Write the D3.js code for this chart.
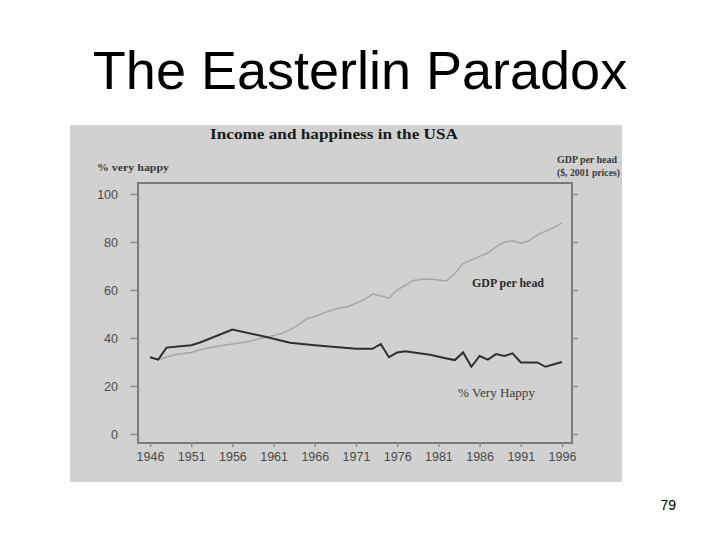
<!DOCTYPE html>
<html>
<head>
<meta charset="utf-8">
<script src="https://cdn.jsdelivr.net/npm/d3@7"></script>
<style>
  body { margin: 0; background: #fff; }
  svg { display: block; }
</style>
</head>
<body>
<script>
// % very happy, survey years
var happyYears = [1946, 1947, 1948, 1951, 1952, 1956, 1960, 1963, 1966, 1971, 1973, 1974, 1975, 1976, 1977, 1978, 1980, 1982, 1983, 1984, 1985, 1986, 1987, 1988, 1989, 1990, 1991, 1993, 1994, 1996];
var happyValues = [32, 31, 36, 37, 38, 43.5, 40.5, 38, 37, 35.5, 35.5, 37.5, 32, 34, 34.5, 34, 33, 31.5, 30.8, 34, 28, 32.5, 31, 33.3, 32.5, 33.6, 29.8, 29.8, 28, 30];

// GDP per head (index, same scale)
var gdpYears = d3.range(1946, 1997);
var gdpValues = [32, 31, 32, 33, 33.5, 34, 35, 35.8, 36.5, 37, 37.5, 38, 38.5, 39.5, 40.3, 41, 42, 43.5, 45.5, 48, 49, 50.3, 51.5, 52.5, 53, 54.5, 56, 58.3, 57.5, 56.7, 60, 62, 64, 64.5, 64.6, 64.2, 63.8, 67, 71, 72.5, 74, 75.5, 78, 80, 80.5, 79.5, 80.5, 83, 84.5, 86, 88];

var yTicks = [0, 20, 40, 60, 80, 100];
var xTicks = [1946, 1951, 1956, 1961, 1966, 1971, 1976, 1981, 1986, 1991, 1996];

var width = 720, height = 540;
var svg = d3.select("body").append("svg")
    .attr("width", width)
    .attr("height", height);

// slide title
svg.append("text")
    .attr("x", 360).attr("y", 89)
    .attr("text-anchor", "middle")
    .style("font-family", "Arial, 'Liberation Sans', sans-serif")
    .style("font-size", "54px")
    .text("The Easterlin Paradox");

// scanned picture background
svg.append("rect")
    .attr("x", 70).attr("y", 125)
    .attr("width", 552).attr("height", 357)
    .attr("fill", "#d1d1d1");

var plot = {left: 138, right: 572, top: 183, bottom: 443};

var x = d3.scaleLinear().domain([1946, 1996]).range([150, 562]);
var y = d3.scaleLinear().domain([0, 100]).range([434, 194]);

var serif = "'Liberation Serif', 'Times New Roman', serif";
var sans = "Arial, 'Liberation Sans', sans-serif";

svg.append("text")
    .attr("x", 210).attr("y", 139)
    .attr("textLength", 248).attr("lengthAdjust", "spacingAndGlyphs")
    .style("font-family", serif).style("font-weight", "bold")
    .style("font-size", "15px").attr("fill", "#1a1a1a")
    .text("Income and happiness in the USA");

svg.append("text")
    .attr("x", 97).attr("y", 171)
    .attr("textLength", 72).attr("lengthAdjust", "spacingAndGlyphs")
    .style("font-family", serif).style("font-weight", "bold")
    .style("font-size", "11px").attr("fill", "#3a3a3a")
    .text("% very happy");

svg.append("text")
    .attr("x", 557).attr("y", 163)
    .attr("textLength", 60).attr("lengthAdjust", "spacingAndGlyphs")
    .style("font-family", serif).style("font-weight", "bold")
    .style("font-size", "11px").attr("fill", "#3a3a3a")
    .text("GDP per head");

svg.append("text")
    .attr("x", 557).attr("y", 176)
    .attr("textLength", 63).attr("lengthAdjust", "spacingAndGlyphs")
    .style("font-family", serif).style("font-weight", "bold")
    .style("font-size", "11px").attr("fill", "#3a3a3a")
    .text("($, 2001 prices)");

// frame
svg.append("rect")
    .attr("x", plot.left).attr("y", plot.top)
    .attr("width", plot.right - plot.left)
    .attr("height", plot.bottom - plot.top)
    .attr("fill", "none")
    .attr("stroke", "#7a7a7a")
    .attr("stroke-width", 2);

// axes
var yAxis = svg.append("g")
    .attr("transform", "translate(" + plot.left + ",0)")
    .call(d3.axisLeft(y).tickValues(yTicks).tickSize(7).tickPadding(13));

var yAxisR = svg.append("g")
    .attr("transform", "translate(" + plot.right + ",0)")
    .call(d3.axisRight(y).tickValues(yTicks).tickSize(6).tickFormat(""));

var xAxis = svg.append("g")
    .attr("transform", "translate(0," + plot.bottom + ")")
    .call(d3.axisBottom(x).tickValues(xTicks).tickSize(4).tickPadding(5).tickFormat(d3.format("d")));

[yAxis, yAxisR, xAxis].forEach(function(g) {
  g.select(".domain").remove();
  g.selectAll(".tick line").attr("stroke", "#8a8a8a").attr("stroke-width", 1.5);
  g.selectAll("text")
    .attr("fill", "#4a4a4a")
    .style("font-family", sans)
    .style("font-size", "12.5px");
});

// lines
var gdpLine = d3.line()
    .x(function(d, i) { return x(gdpYears[i]); })
    .y(function(d) { return y(d); });

var happyLine = d3.line()
    .x(function(d, i) { return x(happyYears[i]); })
    .y(function(d) { return y(d); });

svg.append("path")
    .datum(gdpValues)
    .attr("d", gdpLine)
    .attr("fill", "none")
    .attr("stroke", "#a6a6a6")
    .attr("stroke-width", 1.5);

svg.append("path")
    .datum(happyValues)
    .attr("d", happyLine)
    .attr("fill", "none")
    .attr("stroke", "#2e2e2e")
    .attr("stroke-width", 2);

// in-plot labels
svg.append("text")
    .attr("x", 472).attr("y", 287)
    .attr("textLength", 72).attr("lengthAdjust", "spacingAndGlyphs")
    .style("font-family", serif).style("font-weight", "bold")
    .style("font-size", "12px").attr("fill", "#2a2a2a")
    .text("GDP per head");

svg.append("text")
    .attr("x", 458).attr("y", 397)
    .attr("textLength", 77).attr("lengthAdjust", "spacingAndGlyphs")
    .style("font-family", serif)
    .style("font-size", "12px").attr("fill", "#3a3a3a")
    .text("% Very Happy");

// slide number
svg.append("text")
    .attr("x", 676).attr("y", 510)
    .attr("text-anchor", "end")
    .style("font-family", sans)
    .style("font-size", "14px")
    .text("79");
</script>
</body>
</html>
